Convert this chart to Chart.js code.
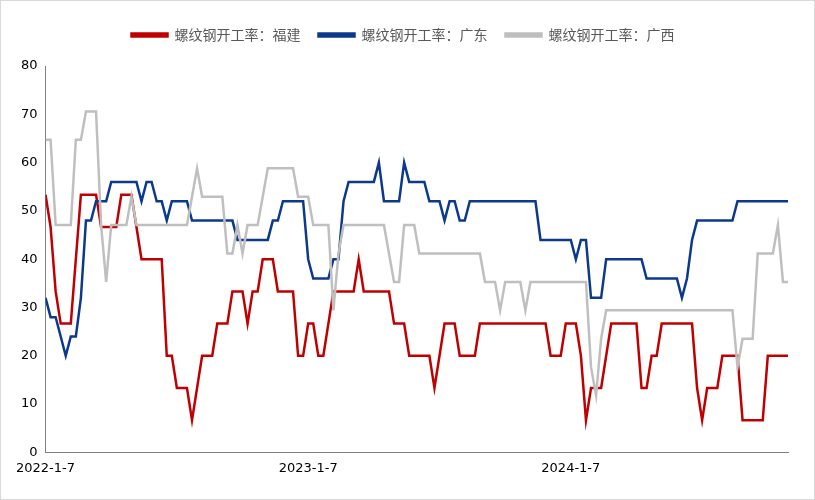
<!DOCTYPE html>
<html>
<head>
<meta charset="utf-8">
<script src="https://cdn.jsdelivr.net/npm/chart.js@4"></script>
<style>
  body { margin: 0; background: #fff; }
  #box { position: relative; width: 813px; height: 498px; border: 1px solid #d9d9d9; }
</style>
</head>
<body>
<div id="box"><canvas id="canvas"></canvas></div>
<script>
// weekly, starting 2022-1-7
const seriesNames = ['螺纹钢开工率：福建', '螺纹钢开工率：广东', '螺纹钢开工率：广西'];
const tickLabels = ['2022-1-7', '2023-1-7', '2024-1-7'];
const tickIndex = [0, 52, 104];

const fujian = [
    53.33, 46.67, 33.33, 26.67, 26.67, 26.67, 40, 53.33, 53.33, 53.33,
    53.33, 46.67, 46.67, 46.67, 46.67, 53.33, 53.33, 53.33, 46.67, 40,
    40, 40, 40, 40, 20, 20, 13.33, 13.33, 13.33, 6.67,
    13.33, 20, 20, 20, 26.67, 26.67, 26.67, 33.33, 33.33, 33.33,
    26.67, 33.33, 33.33, 40, 40, 40, 33.33, 33.33, 33.33, 33.33,
    20, 20, 26.67, 26.67, 20, 20, 26.67, 33.33, 33.33, 33.33,
    33.33, 33.33, 40, 33.33, 33.33, 33.33, 33.33, 33.33, 33.33, 26.67,
    26.67, 26.67, 20, 20, 20, 20, 20, 13.33, 20, 26.67,
    26.67, 26.67, 20, 20, 20, 20, 26.67, 26.67, 26.67, 26.67,
    26.67, 26.67, 26.67, 26.67, 26.67, 26.67, 26.67, 26.67, 26.67, 26.67,
    20, 20, 20, 26.67, 26.67, 26.67, 20, 6.67, 13.33, 13.33,
    13.33, 20, 26.67, 26.67, 26.67, 26.67, 26.67, 26.67, 13.33, 13.33,
    20, 20, 26.67, 26.67, 26.67, 26.67, 26.67, 26.67, 26.67, 13.33,
    6.67, 13.33, 13.33, 13.33, 20, 20, 20, 20, 6.67, 6.67,
    6.67, 6.67, 6.67, 20, 20, 20, 20, 20
];
const guangdong = [
    32, 28, 28, 24, 20, 24, 24, 32, 48, 48,
    52, 52, 52, 56, 56, 56, 56, 56, 56, 52,
    56, 56, 52, 52, 48, 52, 52, 52, 52, 48,
    48, 48, 48, 48, 48, 48, 48, 48, 44, 44,
    44, 44, 44, 44, 44, 48, 48, 52, 52, 52,
    52, 52, 40, 36, 36, 36, 36, 40, 40, 52,
    56, 56, 56, 56, 56, 56, 60, 52, 52, 52,
    52, 60, 56, 56, 56, 56, 52, 52, 52, 48,
    52, 52, 48, 48, 52, 52, 52, 52, 52, 52,
    52, 52, 52, 52, 52, 52, 52, 52, 44, 44,
    44, 44, 44, 44, 44, 40, 44, 44, 32, 32,
    32, 40, 40, 40, 40, 40, 40, 40, 40, 36,
    36, 36, 36, 36, 36, 36, 32, 36, 44, 48,
    48, 48, 48, 48, 48, 48, 48, 52, 52, 52,
    52, 52, 52, 52, 52, 52, 52, 52
];
const guangxi = [
    64.71, 64.71, 47.06, 47.06, 47.06, 47.06, 64.71, 64.71, 70.59, 70.59,
    70.59, 47.06, 35.29, 47.06, 47.06, 47.06, 47.06, 52.94, 47.06, 47.06,
    47.06, 47.06, 47.06, 47.06, 47.06, 47.06, 47.06, 47.06, 47.06, 52.94,
    58.82, 52.94, 52.94, 52.94, 52.94, 52.94, 41.18, 41.18, 47.06, 41.18,
    47.06, 47.06, 47.06, 52.94, 58.82, 58.82, 58.82, 58.82, 58.82, 58.82,
    52.94, 52.94, 52.94, 47.06, 47.06, 47.06, 47.06, 29.41, 41.18, 47.06,
    47.06, 47.06, 47.06, 47.06, 47.06, 47.06, 47.06, 47.06, 41.18, 35.29,
    35.29, 47.06, 47.06, 47.06, 41.18, 41.18, 41.18, 41.18, 41.18, 41.18,
    41.18, 41.18, 41.18, 41.18, 41.18, 41.18, 41.18, 35.29, 35.29, 35.29,
    29.41, 35.29, 35.29, 35.29, 35.29, 29.41, 35.29, 35.29, 35.29, 35.29,
    35.29, 35.29, 35.29, 35.29, 35.29, 35.29, 35.29, 35.29, 17.65, 11.76,
    23.53, 29.41, 29.41, 29.41, 29.41, 29.41, 29.41, 29.41, 29.41, 29.41,
    29.41, 29.41, 29.41, 29.41, 29.41, 29.41, 29.41, 29.41, 29.41, 29.41,
    29.41, 29.41, 29.41, 29.41, 29.41, 29.41, 29.41, 17.65, 23.53, 23.53,
    23.53, 41.18, 41.18, 41.18, 41.18, 47.06, 35.29, 35.29
];
const colors = ['#C00000', '#0B3A8C', '#BFBFBF'];

function toPoints(arr) {
    return arr.map((v, i) => ({ x: i, y: v }));
}

const datasets = [guangxi, guangdong, fujian].map((arr, k) => {
    const n = 2 - k;
    return {
        label: seriesNames[n],
        data: toPoints(arr),
        borderColor: colors[n],
        backgroundColor: colors[n],
        borderWidth: 2.5,
        pointRadius: 0,
        tension: 0,
        order: k,
    };
});

// extra room below the legend
const legendGap = {
    id: 'legendGap',
    beforeInit(chart) {
        const fit = chart.legend.fit;
        chart.legend.fit = function () {
            fit.bind(chart.legend)();
            this.height += 14;
        };
    },
};

new Chart('canvas', {
    type: 'line',
    data: { datasets: datasets },
    plugins: [legendGap],
    options: {
        responsive: true,
        maintainAspectRatio: false,
        animation: false,
        layout: { padding: { left: 17, right: 26, top: 9, bottom: 20 } },
        plugins: {
            legend: {
                reverse: true,
                labels: {
                    font: { family: 'Noto Sans CJK SC', size: 14 },
                    color: '#595959',
                    boxWidth: 36,
                    boxHeight: 3,
                    padding: 18,
                },
            },
            tooltip: { enabled: false },
        },
        scales: {
            x: {
                type: 'linear',
                min: 0,
                max: fujian.length - 1,
                afterBuildTicks: (axis) => {
                    axis.ticks = tickIndex.map((v) => ({ value: v }));
                },
                ticks: {
                    autoSkip: false,
                    maxRotation: 0,
                    color: '#000',
                    font: { family: 'DejaVu Sans', size: 13 },
                    callback: (v) => tickLabels[tickIndex.indexOf(v)],
                },
                grid: { display: false, drawTicks: true, tickLength: 5 },
                border: { color: '#808080' },
            },
            y: {
                min: 0,
                max: 80,
                ticks: {
                    stepSize: 10,
                    color: '#000',
                    font: { family: 'DejaVu Sans', size: 13 },
                },
                grid: { display: false, tickLength: 5 },
                border: { color: '#808080' },
            },
        },
    },
});
</script>
</body>
</html>
